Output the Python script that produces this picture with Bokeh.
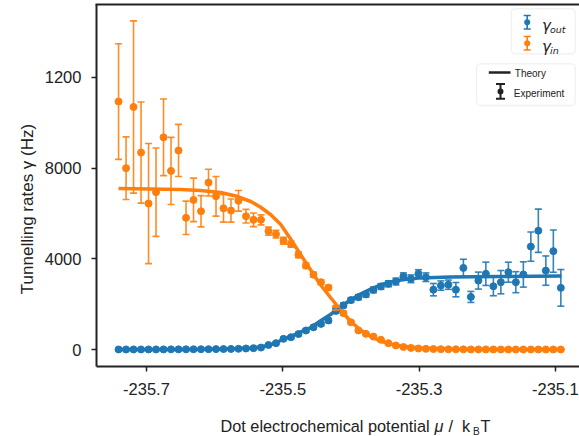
import math
from bokeh.plotting import figure
from bokeh.models import (ColumnDataSource, Whisker, TeeHead, FixedTicker, Label,
                          BoxAnnotation, Arrow)
from bokeh.embed import file_html
from bokeh.resources import INLINE

# ---------------- data ----------------
mu = [-235.741, -235.730, -235.719, -235.708, -235.697, -235.686, -235.675, -235.664,
      -235.653, -235.642, -235.631, -235.620, -235.609, -235.598, -235.587, -235.576,
      -235.565, -235.554, -235.543, -235.532, -235.521, -235.510, -235.499, -235.488,
      -235.477, -235.466, -235.455, -235.444, -235.433, -235.422, -235.411, -235.400,
      -235.389, -235.378, -235.367, -235.356, -235.345, -235.334, -235.323, -235.312,
      -235.301, -235.290, -235.279, -235.268, -235.257, -235.246, -235.235, -235.224,
      -235.213, -235.202, -235.191, -235.180, -235.169, -235.158, -235.147, -235.136,
      -235.125, -235.114, -235.103, -235.092]

gamma_in = [10940, 8000, 10700, 8690, 6440, 6940, 9360, 7880, 8780, 5810,
            6600, 6100, 7365, 6760, 6230, 6130, 6560, 5880, 5720, 5720,
            5220, 5090, 4800, 4650, 4180, 3700, 3300, 2970, 2730, 1840,
            1600, 1200, 840, 690, 570, 430, 280, 180, 110, 70,
            45, 30, 20, 15, 10, 8, 6, 5, 4, 3,
            3, 2, 2, 2, 1, 1, 1, 1, 1, 1]
err_in = [2550, 1380, 3800, 2230, 2650, 1950, 1690, 1480, 1150, 735,
          960, 690, 590, 875, 610, 510, 455, 300, 300, 220,
          180, 170, 150, 140, 130, 120, 110, 100, 100, 90,
          80, 70, 60, 50, 45, 40, 35, 30, 25, 20,
          15, 12, 10, 10, 8, 8, 6, 6, 5, 5,
          5, 5, 5, 5, 5, 5, 5, 5, 5, 5]

gamma_out = [2, 2, 3, 3, 4, 4, 5, 6, 7, 8,
             10, 12, 14, 17, 20, 25, 30, 45, 60, 85,
             200, 280, 470, 540, 680, 840, 980, 1130, 1280, 1700,
             1950, 2180, 2310, 2430, 2630, 2780, 2900, 3000, 3220, 3120,
             3340, 3190, 2640, 2820, 2860, 2640, 3600, 2320, 3040, 3340,
             2790, 2970, 3410, 2970, 3310, 4540, 5240, 3480, 4340, 2720]
err_out = [20, 20, 20, 20, 20, 20, 20, 20, 20, 20,
           25, 25, 25, 25, 25, 25, 30, 30, 30, 35,
           50, 55, 60, 65, 70, 75, 80, 85, 90, 95,
           100, 105, 110, 115, 120, 125, 130, 150, 160, 170,
           180, 190, 272, 205, 205, 316, 382, 243, 375, 514,
           419, 514, 441, 463, 558, 647, 955, 647, 933, 808]

mu_theory = [-235.741, -235.650, -235.621, -235.591, -235.569, -235.547, -235.533, -235.518,
             -235.503, -235.489, -235.474, -235.459, -235.445, -235.430, -235.415, -235.401,
             -235.386, -235.371, -235.357, -235.342, -235.327, -235.298, -235.254, -235.181,
             -235.091]
theory_in = [7103, 7059, 7015, 6927, 6772, 6530, 6287, 5956,
             5515, 4897, 4191, 3507, 2868, 2294, 1743, 1257,
             860, 574, 375, 243, 154, 66, 22, 5,
             2]
theory_out = [3, 5, 12, 22, 40, 66, 110, 199,
              397, 574, 772, 971, 1257, 1544, 1875, 2184,
              2449, 2669, 2846, 2978, 3066, 3160, 3199, 3221,
              3243]

x_ticks = [-235.7, -235.5, -235.3, -235.1]
x_tick_labels = ["-235.7", "-235.5", "-235.3", "-235.1"]
y_ticks = [0, 4000, 8000, 12000]
y_tick_labels = ["0", "4000", "8000", "1200"]

# ---------------- style ----------------
BLUE = "#1f77b4"
ORANGE = "#ff7f0e"
INK = "#222222"
FONT = "Liberation Sans"
W, H = 579, 436

# axes box (data limits) and the full-canvas view ranges
X_START, X_END = -235.7734, -235.0646
Y_START, Y_END = -750, 15220
VIEW_X = (-235.91424, -235.06461)
VIEW_Y = (-3838, 15397)

p = figure(width=W, height=H, output_backend="svg", toolbar_location=None,
           x_range=VIEW_X, y_range=VIEW_Y,
           min_border_left=0, min_border_right=0, min_border_top=0, min_border_bottom=0)
p.outline_line_color = None
p.xgrid.visible = False
p.ygrid.visible = False
p.background_fill_color = "white"
p.border_fill_color = "white"

xa, ya = p.xaxis[0], p.yaxis[0]
xa.fixed_location = Y_START
xa.bounds = (X_START, X_END)
ya.fixed_location = X_START
ya.bounds = (Y_START, Y_END)
for ax in (xa, ya):
    ax.axis_line_width = 2
    ax.axis_line_color = INK
    ax.major_tick_line_color = INK
    ax.major_tick_line_width = 1.5
    ax.major_tick_out = 5
    ax.major_tick_in = 0
    ax.minor_tick_line_color = None
    ax.major_label_text_font = FONT
    ax.major_label_text_font_size = "16.5px"
    ax.major_label_text_color = INK

xa.ticker = FixedTicker(ticks=x_ticks)
xa.major_label_overrides = dict(zip(x_ticks, x_tick_labels))
xa.major_label_standoff = 11
ya.ticker = FixedTicker(ticks=y_ticks)
ya.major_label_overrides = dict(zip(y_ticks, y_tick_labels))
ya.major_label_standoff = 10

# screen helpers (canvas px from top-left -> frame screen units, y up)
def sx(cx):
    return cx
def sy(cy):
    return H - cy

# top spine
p.add_layout(Arrow(x_start=sx(95), y_start=sy(4), x_end=sx(W), y_end=sy(4),
                   start_units="screen", end_units="screen", line_color=INK, line_width=2,
                   start=None, end=None))

# theory lines
p.line(mu_theory, theory_out, line_color=BLUE, line_width=3.5)
p.line(mu_theory, theory_in, line_color=ORANGE, line_width=3.5)

# data with error bars
def add_series(vals, errs, color):
    src = ColumnDataSource(dict(x=mu, y=vals,
                                lo=[v - e for v, e in zip(vals, errs)],
                                hi=[v + e for v, e in zip(vals, errs)]))
    head = dict(size=7, line_color=color, line_width=1.6, line_alpha=0.9)
    p.add_layout(Whisker(source=src, base="x", upper="hi", lower="lo", dimension="height",
                         line_color=color, line_width=1.6, line_alpha=0.9, level="glyph",
                         upper_head=TeeHead(**head), lower_head=TeeHead(**head)))
    p.scatter("x", "y", source=src, size=7, fill_color=color, line_color=color)

add_series(gamma_out, err_out, BLUE)
add_series(gamma_in, err_in, ORANGE)

def lab(text, cx, cy, size, style="normal", font=FONT, color=INK, baseline="alphabetic",
        align="left", angle=0.0):
    p.add_layout(Label(x=sx(cx), y=sy(cy), x_units="screen", y_units="screen", text=text,
                       text_font=font, text_font_size=size, text_font_style=style,
                       text_color=color, text_baseline=baseline, text_align=align,
                       angle=angle, level="overlay"))

# axis labels
lab("Tunnelling rates γ (Hz)", 27, 208.5, "17px", align="center", angle=math.pi / 2)
lab("Dot electrochemical potential", 220, 425.5, "16.3px")
lab("μ", 434, 425.5, "16.3px", style="italic")
lab("/", 448, 425.5, "16.3px")
lab("k", 461.5, 425.5, "16.3px")
lab("B", 472.5, 430.5, "10px")
lab("T", 480, 425.5, "16.3px")

# ---------------- legends ----------------
def box(l, r, t, b, radius=4, fill="white", line="#cccccc", lw=1.3):
    p.add_layout(BoxAnnotation(left=sx(l), right=sx(r), top=sy(t), bottom=sy(b),
                               left_units="screen", right_units="screen",
                               top_units="screen", bottom_units="screen",
                               fill_color=fill, fill_alpha=1, line_color=line, line_width=lw,
                               border_radius=radius, level="overlay"))

def errsym(cx, top, bottom, color, cap=7, lw=1.6, dot=3):
    p.add_layout(Arrow(x_start=sx(cx), y_start=sy(top), x_end=sx(cx), y_end=sy(bottom),
                       start_units="screen", end_units="screen", line_color=color, line_width=lw,
                       start=TeeHead(size=cap, line_color=color, line_width=lw),
                       end=TeeHead(size=cap, line_color=color, line_width=lw), level="overlay"))
    cy = (top + bottom) / 2
    p.add_layout(BoxAnnotation(left=sx(cx - dot), right=sx(cx + dot), top=sy(cy - dot), bottom=sy(cy + dot),
                               left_units="screen", right_units="screen",
                               top_units="screen", bottom_units="screen",
                               fill_color=color, fill_alpha=1, line_color=None,
                               border_radius=dot, level="overlay"))

box(510.7, 574.7, 8.3, 53.3)
box(476, 574.7, 63.3, 105)
errsym(526.7, 15, 28.5, BLUE)
errsym(526.7, 36, 49.5, ORANGE)
p.add_layout(Arrow(x_start=sx(488.3), y_start=sy(72), x_end=sx(510), y_end=sy(72),
                   start_units="screen", end_units="screen", line_color=INK, line_width=2.7,
                   start=None, end=None, level="overlay"))
errsym(500, 83.5, 98.3, INK, cap=9, lw=2)

lab("γ", 541.5, 25, "15px", style="italic", font="DejaVu Sans")
lab("out", 549.5, 28.5, "9.5px", style="italic", font="DejaVu Sans")
lab("γ", 541.5, 46, "15px", style="italic", font="DejaVu Sans")
lab("in", 549.5, 49.5, "9.5px", style="italic", font="DejaVu Sans")
lab("Theory", 514.3, 72.7, "10px", baseline="middle")
lab("Experiment", 513.3, 93.3, "10px", baseline="middle")

open("out.html", "w").write(file_html(p, INLINE))
